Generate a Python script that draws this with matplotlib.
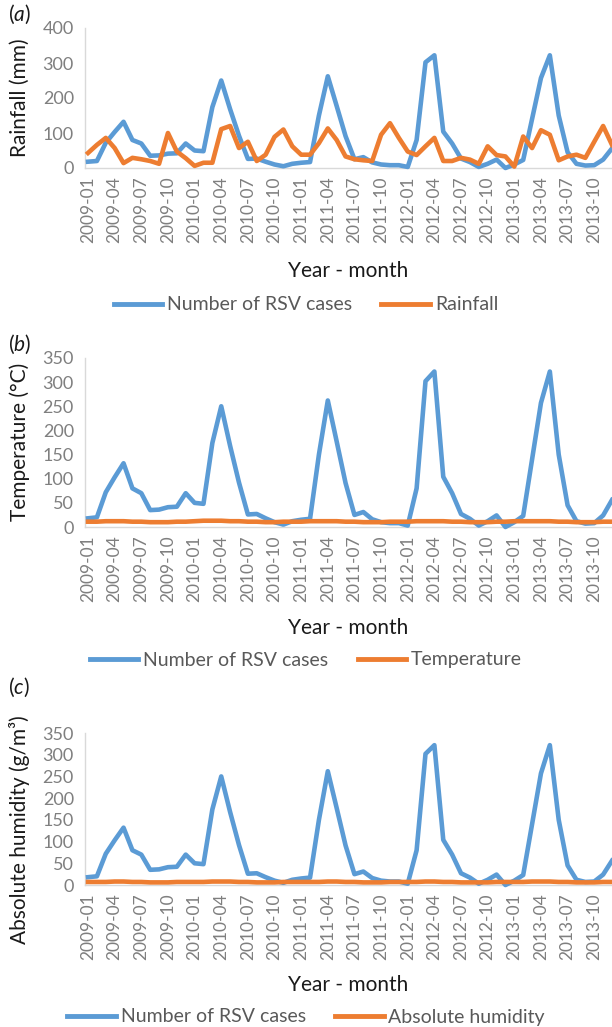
import matplotlib
matplotlib.use('Agg')
from matplotlib import pyplot as plt
from matplotlib.lines import Line2D

plt.rcParams['font.family'] = ['Lato', 'DejaVu Sans']
plt.rcParams['mathtext.fontset'] = 'custom'
plt.rcParams['mathtext.rm'] = 'Lato'
plt.rcParams['mathtext.it'] = 'Lato:italic'

# monthly data, 2009-01 .. 2013-12
rsv_cases = [18, 20, 72, 103, 132, 80, 70, 35, 36, 41, 42, 70,
             50, 48, 174, 250, 168, 92, 26, 27, 18, 10, 5, 12,
             15, 17, 150, 262, 177, 91, 25, 31, 16, 10, 8, 8,
             3, 80, 302, 322, 104, 70, 27, 17, 3, 12, 24, 0,
             10, 23, 140, 257, 322, 150, 45, 12, 7, 8, 24, 56]

rainfall = [43, 66, 86, 57, 14, 29, 25, 20, 12, 100, 47, 28,
            6, 15, 15, 111, 120, 57, 75, 20, 38, 89, 110, 62,
            38, 38, 71, 113, 80, 33, 25, 22, 20, 95, 128, 86,
            47, 37, 62, 86, 20, 20, 29, 24, 12, 62, 37, 33,
            4, 90, 57, 108, 95, 22, 33, 38, 29, 75, 120, 66]

temperature = [11, 11, 12, 12, 12, 11, 11, 10, 10, 10, 11, 11,
               12, 13, 13, 13, 12, 12, 11, 11, 10, 10, 11, 11,
               11, 12, 12, 12, 12, 11, 11, 10, 10, 10, 11, 11,
               11, 12, 12, 12, 12, 11, 11, 10, 10, 10, 11, 11,
               12, 12, 12, 12, 12, 11, 11, 10, 10, 10, 11, 11]

abs_humidity = [7, 7, 7, 8, 8, 7, 7, 6, 6, 6, 7, 7,
                7, 7, 8, 8, 8, 7, 7, 6, 6, 6, 7, 7,
                7, 7, 7, 8, 8, 7, 7, 6, 6, 6, 7, 7,
                7, 7, 8, 8, 7, 7, 6, 6, 6, 6, 7, 7,
                7, 7, 8, 8, 8, 7, 7, 6, 6, 6, 7, 7]

tick_labels = ['2009-01', '2009-04', '2009-07', '2009-10',
               '2010-01', '2010-04', '2010-07', '2010-10',
               '2011-01', '2011-04', '2011-07', '2011-10',
               '2012-01', '2012-04', '2012-07', '2012-10',
               '2013-01', '2013-04', '2013-07', '2013-10']

BLUE = '#5B9BD5'
ORANGE = '#ED7D31'
GRAY = '#7f7f7f'
H = 1027.0
W = 612.0

fig = plt.figure(figsize=(6.12, 10.27), dpi=100)

# (series, ylabel, legend label, ymax, letter, y of zero, y of top, letter y, ylabel y, xlabel y, legend y)
panels = [
    (rainfall, 'Rainfall (mm)', 'Rainfall', 400, 'a', 168, 28, 14, 98, 271, 305),
    (temperature, 'Temperature (°C)', 'Temperature', 350, 'b', 527, 358, 344, 442, 628, 660),
    (abs_humidity, 'Absolute humidity (g/m³)', 'Absolute humidity', 350, 'c', 885, 733, 687, 830, 985, 1017),
]

x = list(range(len(rsv_cases)))
left = 85 / W

for series, ylab, leglab, ymax, letter, y0, y1, ly, yly, xly, legy in panels:
    ax = fig.add_axes([left, 1 - y0 / H, 1 - left, (y0 - y1) / H])
    ax.plot(x, rsv_cases, color=BLUE, lw=3.3, clip_on=False, zorder=3)
    ax.plot(x, series, color=ORANGE, lw=3.3, clip_on=False, zorder=3)
    ax.set_xlim(-0.34, 59)
    ax.set_ylim(0, ymax)
    ax.set_yticks(range(0, ymax + 1, 100 if ymax == 400 else 50))
    ax.set_xticks(range(0, 60, 3))
    ax.set_xticklabels(tick_labels, rotation=90)
    ax.tick_params(axis='both', length=0, colors=GRAY)
    ax.tick_params(axis='y', labelsize=13, pad=8)
    ax.tick_params(axis='x', labelsize=12.5, pad=6)
    for s in ['top', 'right']:
        ax.spines[s].set_visible(False)
    for s in ['left', 'bottom']:
        ax.spines[s].set_color('#d9d9d9')
        ax.spines[s].set_linewidth(1)

    fig.text(8 / W, 1 - ly / H, '($\\mathit{' + letter + '}$)', fontsize=15,
             va='center', ha='left', color='#1a1a1a')
    fig.text(20 / W, 1 - yly / H, ylab, rotation=90, fontsize=15,
             va='center', ha='center', color='#1a1a1a')
    fig.text(348 / W, 1 - xly / H, 'Year - month', fontsize=15,
             va='center', ha='center', color='#1a1a1a')

    handles = [Line2D([], [], color=BLUE, lw=3.5),
               Line2D([], [], color=ORANGE, lw=3.5)]
    leg = fig.legend(handles, ['Number of RSV cases', leglab], loc='center',
                     bbox_to_anchor=(0.5, 1 - legy / H), ncol=2, frameon=False,
                     fontsize=14, handlelength=2.5, handletextpad=0.25,
                     columnspacing=1.5, borderaxespad=0)
    for t in leg.get_texts():
        t.set_color('#595959')

fig.savefig('out.png', dpi=100)
